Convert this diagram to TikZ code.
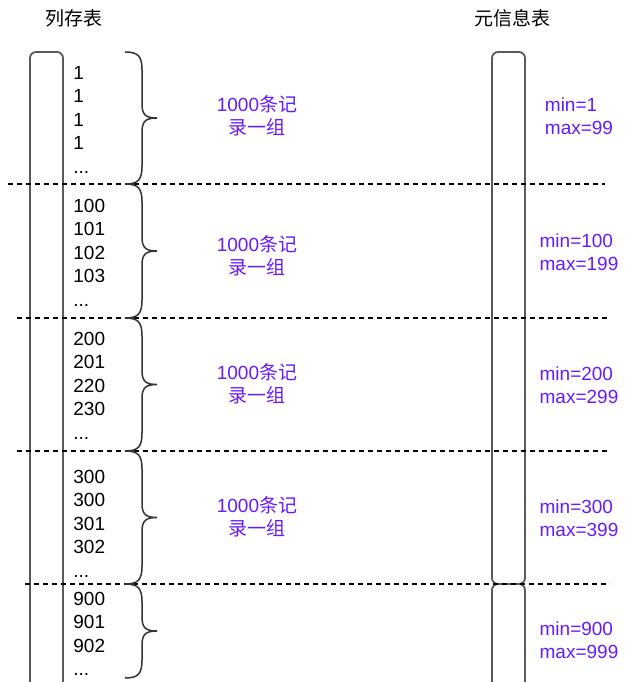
\documentclass[tikz,border=0pt]{standalone}
\usepackage{fontspec}
\setmainfont{Liberation Sans}
\newfontfamily\cjk{Noto Sans CJK SC}
\definecolor{grpviolet}{RGB}{102,26,255}
\newcommand\rowdots{...}

\begin{document}
\begin{tikzpicture}[x=0.5pt, y=-0.5pt,
    colbox/.style={draw=black!65, line width=0.9pt, rounded corners=3pt},
    grpline/.style={dash pattern=on 2.5pt off 2pt, line width=0.6pt},
    grpbrace/.style={line width=0.75pt, black!80},
    num/.style={anchor=base west, inner sep=0pt, font=\fontsize{9.5}{11.5}\selectfont},
    title/.style={font=\cjk\fontsize{9.5}{11.5}\selectfont},
    grp/.style={align=center, text=grpviolet, font=\fontsize{9.5}{11.5}\selectfont},
    meta/.style={grp, align=left}]
  \clip (0,0) rectangle (626,682);
  \node[title] (coltab) at (74,18) {列存表};
  \node[title] (metatab) at (512,18) {元信息表};
  \draw[colbox] (30,52) rectangle (63,720);
  \draw[colbox] (492,52) rectangle (525,584);
  \draw[colbox] (492,584) rectangle (525,720);
  \foreach \y/\xa/\xb in {184/8/605, 318/17/610, 451/17/610, 584/25/610}
    \draw[grpline] (\xa,\y) -- (\xb,\y);
  \foreach \gtop/\gbot/\ystart/\vals/\mmid/\lo/\hi [count=\k] in {
      52/184/79/{1,1,1,1,\rowdots}/116/1/99,
      184/318/212/{100,101,102,103,\rowdots}/252/100/199,
      318/451/345/{200,201,220,230,\rowdots}/385/200/299,
      451/584/483/{300,300,301,302,\rowdots}/518/300/399,
      584/678/605/{900,901,902,\rowdots}/640/900/999} {
    \pgfmathsetmacro\tip{(\gtop+\gbot)/2}
    \draw[grpbrace] (125,\gtop) .. controls (138,\gtop) and (142,\gtop+4) .. (142,\gtop+18)
      -- (142,\tip-14) .. controls (142,\tip-3) and (146,\tip) .. (157,\tip)
      .. controls (146,\tip) and (142,\tip+3) .. (142,\tip+14)
      -- (142,\gbot-18) .. controls (142,\gbot-4) and (138,\gbot) .. (125,\gbot);
    \foreach \v [count=\j] in \vals
      \node[num] (n\k-\j) at (73,{\ystart+(\j-1)*23.5}) {\v};
    \node[meta] (m\k) at (579,\mmid) {min=\lo\\max=\hi};
  }
  \foreach \y [count=\k] in {116,256,384,517}
    \node[grp] (g\k) at (257,\y) {1000{\cjk 条记}\\{\cjk 录一组}};
\end{tikzpicture}
\end{document}
